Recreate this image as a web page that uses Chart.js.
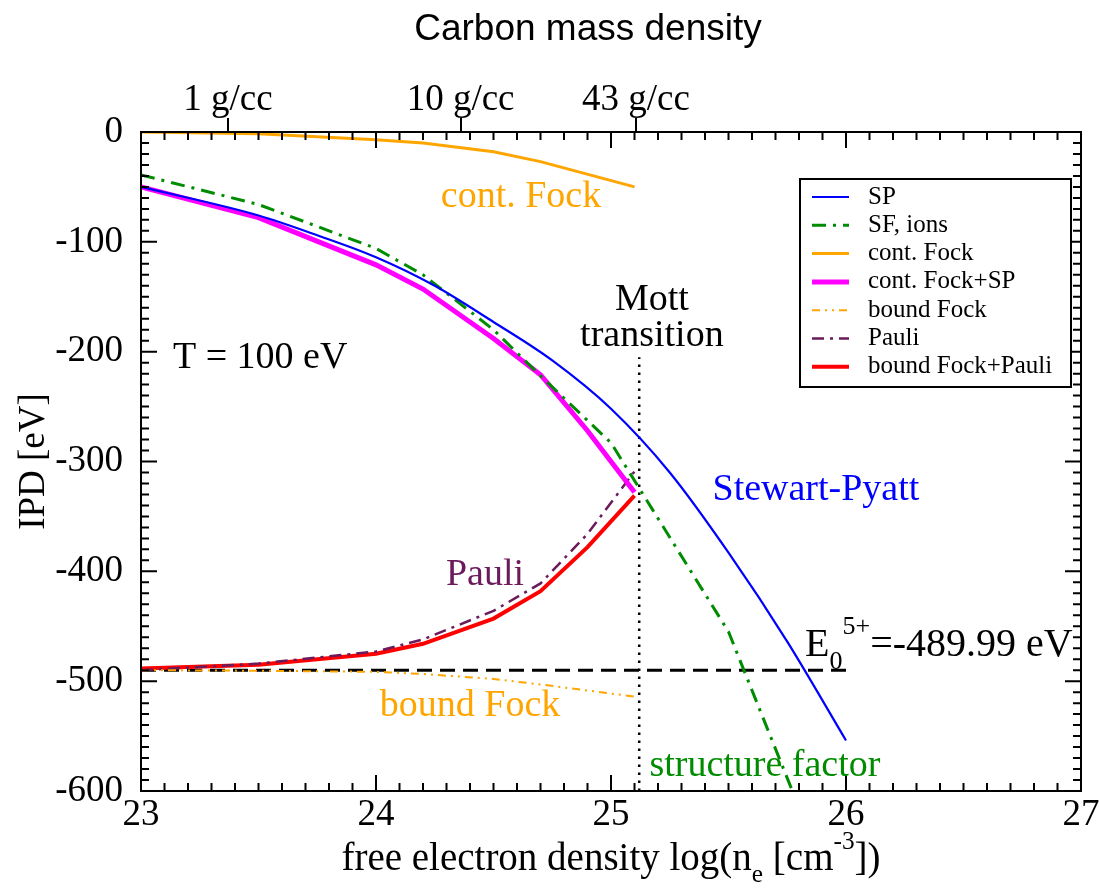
<!DOCTYPE html>
<html>
<head>
<meta charset="utf-8">
<script src="https://cdn.jsdelivr.net/npm/chart.js@4.4.1/dist/chart.umd.min.js"></script>
<style>
  html, body { margin: 0; padding: 0; background: #fff; }
</style>
</head>
<body>
<canvas id="ipdChart" width="1099" height="893"></canvas>
<script>
// x: log10 of the free electron density [cm^-3], y: IPD [eV]
const spX = [23, 23.5, 23.75, 24, 24.25, 24.5, 24.75, 25.0, 25.25, 25.5, 25.75, 26.0];
const spY = [-50, -76, -94, -114, -140, -173, -208, -252, -310, -383, -464, -554];

const sfX = [23, 23.5, 24, 24.2, 24.5, 24.7, 25.0, 25.5, 25.8];
const sfY = [-39, -66, -106, -130, -180, -222, -283, -455, -615];

const contFockX = [23, 23.5, 24, 24.2, 24.5, 24.7, 25.1];
const contFockY = [0, -1.5, -7, -10, -18, -27, -50];

const contSpX = [23, 23.5, 24, 24.2, 24.5, 24.7, 24.9, 25.1];
const contSpY = [-50, -78, -121, -143, -188, -221, -272, -328];

const boundFockX = [23, 23.5, 24, 24.2, 24.5, 24.7, 25.1];
const boundFockY = [-490, -490.5, -491.5, -493.5, -498, -503, -514];

const pauliX = [23, 23.5, 24, 24.2, 24.5, 24.7, 24.9, 25.1];
const pauliY = [-490, -484, -473, -462, -436, -411, -366, -309];

const boundPauliX = [23, 23.5, 24, 24.2, 24.5, 24.7, 24.9, 25.1];
const boundPauliY = [-488.5, -485, -475, -466, -443, -418, -378, -331];

// ground state energy of C5+ and the Mott density
const e0 = -489.99;
const e0LineX = [23, 26];
const mottX = 25.12;
const mottY = [-600, -205];

// upper axis: carbon mass density
const densityTicks = [23.37, 24.36, 25.106];
const densityLabels = ['1 g/cc', '10 g/cc', '43 g/cc'];

const xTicks = [23, 24, 25, 26, 27];
const yTicks = [-600, -500, -400, -300, -200, -100, 0];

const serif = '"Liberation Serif", "Times New Roman", serif';
const sans = '"Liberation Sans", Arial, sans-serif';

function pts(xs, ys) {
  return xs.map((x, i) => ({ x: x, y: ys[i] }));
}

const datasets = [
  { label: 'SP', data: pts(spX, spY), borderColor: '#0000ff', borderWidth: 2.2, borderDash: [], cubicInterpolationMode: 'monotone' },
  { label: 'SF, ions', data: pts(sfX, sfY), borderColor: '#008c00', borderWidth: 3, borderDash: [14, 7, 3, 7] },
  { label: 'cont. Fock', data: pts(contFockX, contFockY), borderColor: '#ffa500', borderWidth: 3, borderDash: [] },
  { label: 'cont. Fock+SP', data: pts(contSpX, contSpY), borderColor: '#ff00ff', borderWidth: 5, borderDash: [] },
  { label: 'bound Fock', data: pts(boundFockX, boundFockY), borderColor: '#ffa500', borderWidth: 2, borderDash: [8, 5, 2, 5, 2, 5] },
  { label: 'Pauli', data: pts(pauliX, pauliY), borderColor: '#6b1a5c', borderWidth: 2.5, borderDash: [12, 6, 3, 6] },
  { label: 'bound Fock+Pauli', data: pts(boundPauliX, boundPauliY), borderColor: '#ff0000', borderWidth: 4, borderDash: [] },
  { label: '', data: pts(e0LineX, [e0, e0]), borderColor: '#000', borderWidth: 3, borderDash: [15, 8], noLegend: true },
  { label: '', data: pts([mottX, mottX], mottY), borderColor: '#000', borderWidth: 2.5, borderDash: [2.5, 5.5], noLegend: true },
].map(d => Object.assign({ pointRadius: 0, tension: 0, fill: false, borderCapStyle: 'butt' }, d));

// text labels placed in data coordinates
const notes = [
  { text: 'cont. Fock', x: 24.617, y: -59, color: '#ffa500', align: 'center' },
  { text: 'Mott', x: 25.174, y: -153, color: '#000', align: 'center' },
  { text: 'transition', x: 25.174, y: -186, color: '#000', align: 'center' },
  { text: 'T = 100 eV', x: 23.136, y: -206, color: '#000', align: 'left' },
  { text: 'Stewart-Pyatt', x: 25.872, y: -326, color: '#0000ff', align: 'center' },
  { text: 'Pauli', x: 24.464, y: -403, color: '#6b1a5c', align: 'center' },
  { text: 'bound Fock', x: 24.4, y: -523, color: '#ffa500', align: 'center' },
  { text: 'structure factor', x: 25.655, y: -577, color: '#008c00', align: 'center' },
];

// measures / draws runs of text with sub- and superscripts
function richWidth(ctx, parts, size) {
  return parts.reduce((w, p) => {
    ctx.font = size * (p.scale || 1) + 'px ' + serif;
    return w + ctx.measureText(p.t).width;
  }, 0);
}

function drawRich(ctx, parts, x, y, size) {
  let cx = x;
  parts.forEach(p => {
    ctx.font = size * (p.scale || 1) + 'px ' + serif;
    ctx.fillText(p.t, cx, y + (p.dy || 0) * size);
    cx += ctx.measureText(p.t).width;
  });
}

const xTitle = [
  { t: 'free electron density log(n' },
  { t: 'e', scale: 0.65, dy: 0.3 },
  { t: ' [cm' },
  { t: '-3', scale: 0.65, dy: -0.55 },
  { t: '])' },
];

const decorations = {
  id: 'decorations',
  afterDraw(chart) {
    const { ctx, chartArea: a, scales: { x, y } } = chart;
    ctx.save();

    // inward ticks on all four sides and the frame
    ctx.strokeStyle = '#000';
    ctx.lineWidth = 2;
    ctx.beginPath();
    for (let i = 0; i <= 40; i++) {
      const px = x.getPixelForValue(23 + i / 10);
      const len = i % 10 === 0 ? 16 : 8;
      ctx.moveTo(px, a.bottom); ctx.lineTo(px, a.bottom - len);
      ctx.moveTo(px, a.top); ctx.lineTo(px, a.top + len);
    }
    for (let i = 0; i <= 60; i++) {
      const py = y.getPixelForValue(-600 + i * 10);
      const len = i % 10 === 0 ? 16 : 8;
      ctx.moveTo(a.left, py); ctx.lineTo(a.left + len, py);
      ctx.moveTo(a.right, py); ctx.lineTo(a.right - len, py);
    }
    ctx.stroke();
    ctx.strokeRect(a.left, a.top, a.right - a.left, a.bottom - a.top);

    // annotations
    ctx.textBaseline = 'middle';
    ctx.font = '38px ' + serif;
    notes.forEach(n => {
      ctx.fillStyle = n.color;
      ctx.textAlign = n.align;
      ctx.fillText(n.text, x.getPixelForValue(n.x), y.getPixelForValue(n.y));
    });

    // E0^{5+} label
    ctx.textAlign = 'left';
    ctx.textBaseline = 'alphabetic';
    ctx.fillStyle = '#000';
    drawRich(ctx, [
      { t: 'E' },
      { t: '0', scale: 0.65, dy: 0.33 },
      { t: '5+', scale: 0.65, dy: -0.55 },
      { t: '=-489.99 eV' },
    ], x.getPixelForValue(25.826), y.getPixelForValue(-477), 40);

    // axis titles
    const tw = richWidth(ctx, xTitle, 39);
    drawRich(ctx, xTitle, (a.left + a.right) / 2 - tw / 2, 870, 39);

    ctx.font = '37px ' + sans;
    ctx.textAlign = 'center';
    ctx.fillText('Carbon mass density', 588, 40);

    // legend
    const bx = a.right - 281, by = a.top + 47, bw = 271, bh = 208;
    ctx.fillStyle = '#fff';
    ctx.fillRect(bx, by, bw, bh);
    ctx.lineWidth = 2;
    ctx.strokeStyle = '#000';
    ctx.strokeRect(bx, by, bw, bh);
    ctx.font = '25px ' + serif;
    ctx.textAlign = 'left';
    ctx.textBaseline = 'middle';
    chart.data.datasets.filter(d => !d.noLegend).forEach((d, i) => {
      const ry = by + 18 + i * 28.3;
      ctx.beginPath();
      ctx.setLineDash(d.borderDash);
      ctx.strokeStyle = d.borderColor;
      ctx.lineWidth = d.borderWidth;
      ctx.moveTo(bx + 12, ry);
      ctx.lineTo(bx + 49, ry);
      ctx.stroke();
      ctx.setLineDash([]);
      ctx.fillStyle = '#000';
      ctx.fillText(d.label, bx + 68, ry);
    });

    ctx.restore();
  }
};

new Chart(document.getElementById('ipdChart'), {
  type: 'line',
  data: { datasets: datasets },
  plugins: [decorations],
  options: {
    responsive: false,
    animation: false,
    devicePixelRatio: 1,
    layout: { padding: { right: 18 } },
    plugins: { legend: { display: false }, tooltip: { enabled: false } },
    scales: {
      x: {
        type: 'linear',
        position: 'bottom',
        min: 23,
        max: 27,
        afterBuildTicks: s => { s.ticks = xTicks.map(v => ({ value: v })); },
        afterFit: s => { s.height = 102; },
        grid: { display: false },
        border: { display: false },
        ticks: { color: '#000', padding: -6, font: { family: serif, size: 37 } },
      },
      x2: {
        type: 'linear',
        position: 'top',
        min: 23,
        max: 27,
        afterBuildTicks: s => { s.ticks = densityTicks.map(v => ({ value: v })); },
        afterFit: s => { s.height = 132; },
        grid: { display: true, drawOnChartArea: false, color: '#000', lineWidth: 2, tickLength: 14 },
        border: { display: false },
        ticks: {
          color: '#000',
          padding: -4,
          maxRotation: 0,
          font: { family: serif, size: 37 },
          callback: (v, i) => densityLabels[i],
        },
      },
      y: {
        type: 'linear',
        min: -600,
        max: 0,
        afterBuildTicks: s => { s.ticks = yTicks.map(v => ({ value: v })); },
        afterFit: s => { s.width = 141; },
        grid: { display: false },
        border: { display: false },
        ticks: { color: '#000', padding: 10, font: { family: serif, size: 37 } },
        title: {
          display: true,
          text: 'IPD [eV]',
          color: '#000',
          font: { family: serif, size: 37 },
          padding: { top: 12, bottom: 0 },
        },
      },
    },
  },
});
</script>
</body>
</html>
